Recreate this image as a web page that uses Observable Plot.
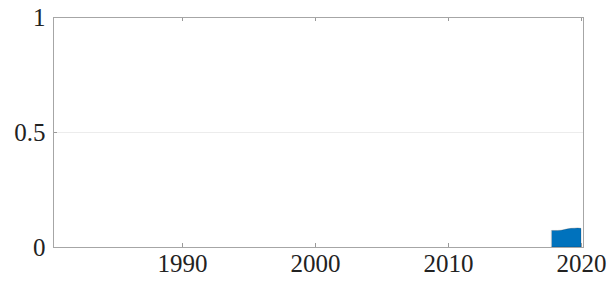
<!DOCTYPE html>
<html><head><meta charset="utf-8">
<script src="https://cdn.jsdelivr.net/npm/d3@7"></script>
<script src="https://cdn.jsdelivr.net/npm/@observablehq/plot@0.6"></script>
<style>body{margin:0;background:#fff;} svg{display:block;}</style>
</head><body><div id="chart"></div>
<script>
const years = [2017.8, 2018.0, 2018.25, 2018.5, 2018.75, 2019.0, 2019.25, 2019.5, 2019.75, 2020.0];
const values = [0.072, 0.072, 0.072, 0.073, 0.076, 0.079, 0.081, 0.082, 0.083, 0.081];
const xTicks = [1990, 2000, 2010, 2020];
const yTicks = [0, 0.5, 1];
const yTickLabels = ["0", "0.5", "1"];

const data = years.map((t, i) => ({t, v: values[i]}));
const serif = "Liberation Serif";

const chart = Plot.plot({
  width: 609, height: 285,
  marginLeft: 53, marginRight: 26, marginTop: 17, marginBottom: 38,
  style: {fontFamily: serif, fontSize: "24px", color: "#222", background: "#fff"},
  x: {domain: [1980.3, 2020.15], label: null},
  y: {domain: [0, 1], label: null},
  marks: [
    Plot.ruleY([0.5], {stroke: "#ececec", strokeWidth: 1}),
    Plot.areaY(data, {x: "t", y: "v", fill: "#0072bd", stroke: "#1a1a1a", strokeWidth: 0.5, strokeOpacity: 0.4}),
    Plot.ruleX(xTicks, {stroke: "#999", insetTop: 226}),
    Plot.ruleX(xTicks, {stroke: "#999", insetBottom: 226}),
    Plot.ruleY(yTicks, {stroke: "#999", x1: 1980.3, x2: 1980.6}),
    Plot.frame({stroke: "#a6a6a6", strokeWidth: 1}),
    Plot.axisX(xTicks, {tickSize: 0, tickPadding: 7, label: null, tickFormat: d => String(d), fontSize: 25, fontFamily: serif, fill: "#222"}),
    Plot.axisY(yTicks, {tickSize: 0, tickPadding: 8, label: null, tickFormat: (d, i) => yTickLabels[i], fontSize: 25, fontFamily: serif, fill: "#222"})
  ]
});
document.getElementById("chart").appendChild(chart);
</script></body></html>
